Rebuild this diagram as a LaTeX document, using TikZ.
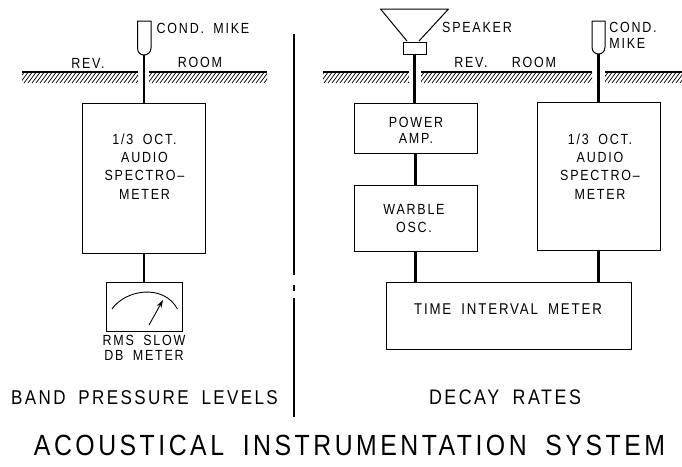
\documentclass[tikz,border=0pt]{standalone}
\usepackage{fontspec}
\setmainfont[LetterSpace=12,WordSpace=1.8,FakeStretch=0.85]{Liberation Sans}
\usetikzlibrary{arrows.meta}
\tikzset{
 box/.style={draw,line width=1pt,inner sep=0pt},
 lead/.style={line width=2.6pt},
 outline/.style={line width=1pt,line join=round},
 lbl/.style={font=\fontsize{14.7}{18.3}\selectfont,align=center,inner sep=0pt},
 lblt/.style={font=\fontsize{14.7}{15.5}\selectfont,align=center,inner sep=0pt},
 big/.style={font=\fontsize{20}{24}\selectfont,inner sep=0pt},
 huge/.style={font=\fontsize{29.2}{34}\selectfont,inner sep=0pt}
}
\newcommand{\hatchfloor}[2]{%
 \draw[line width=1.3pt] (#1,72)--(#2,72);
 \begin{scope}\clip (#1,72) rectangle (#2,82.5);
  \foreach \k in {0,4,...,700}{\draw[line width=.7pt] (\k,83)--(\k+9,71);}
 \end{scope}}
\begin{document}
\begin{tikzpicture}[x=1pt,y=-1pt]
\useasboundingbox (0,0) rectangle (682,466);
\fill[white] (0,0) rectangle (682,466);
\hatchfloor{22}{138}\hatchfloor{149}{267}\hatchfloor{323}{409}\hatchfloor{421}{592}\hatchfloor{605}{682}
% boxes
\node[box,minimum width=123pt,minimum height=150pt] (specL) at (143.5,178) {};
\node[box,minimum width=76pt,minimum height=49pt] (meter) at (144,306.5) {};
\node[box,minimum width=123pt,minimum height=50pt] (amp) at (415.5,128) {};
\node[box,minimum width=123pt,minimum height=66pt] (osc) at (415.5,218) {};
\node[box,minimum width=123pt,minimum height=148pt] (specR) at (598.5,176) {};
\node[box,minimum width=245pt,minimum height=67pt] (tim) at (508.5,315.5) {};
% microphones
\coordinate (mikeL) at (144,55);
\coordinate (mikeR) at (598.5,54);
\draw[outline] (137.5,21)--(151,21)--(151,48) .. controls (151,53) and (147,55) .. (mikeL) .. controls (141,55) and (137.5,53) .. (137.5,48)--cycle;
\draw[outline] (592,21)--(605,21)--(605,47) .. controls (605,52) and (601.5,54) .. (mikeR) .. controls (595.5,54) and (592,52) .. (592,47)--cycle;
% speaker
\node[box,minimum width=23pt,minimum height=12pt] (spk) at (414.5,48) {};
\draw[outline] (407,41)--(380.5,9)--(448.5,9)--(419,41);
% leads
\draw[lead] (mikeL)--(specL.north-|mikeL);
\draw[lead] (mikeR)--(specR.north-|mikeR);
\draw[lead] (spk.south)--(amp.north-|spk.south);
\draw[lead] (amp.south)--(osc.north);
\draw[lead] (specL.south-|meter.north)--(meter.north);
\draw[lead] (osc.south)--(tim.north-|osc.south);
\draw[lead] (specR.south)--(tim.north-|specR.south);
% meter face
\draw[line width=.9pt] (112,309) .. controls (125,290) and (163,283) .. (177.5,309);
\draw[line width=.9pt,-{Stealth[length=8pt,width=5pt]}] (149,325)--(163,300);
% divider
\draw[line width=1.3pt] (294,34)--(294,275);
\draw[line width=1.3pt] (294,285)--(294,291);
\draw[line width=1.3pt] (294,298)--(294,417);
% labels
\node[lbl] (t1) at (144.5,166.5) {1/3 OCT.\\AUDIO\\SPECTRO--\\METER};
\node[lbl] (t2) at (600,166.5) {1/3 OCT.\\AUDIO\\SPECTRO--\\METER};
\node[lblt] (t3) at (416,130.5) {POWER\\AMP.};
\node[lbl] (t4) at (414,218.5) {WARBLE\\OSC.};
\node[lbl,font=\fontsize{15.6}{18}\selectfont] (t5) at (508,309) {TIME INTERVAL METER};
\node[lbl] (l1) at (203,28) {COND. MIKE};
\node[lbl] (l2) at (88,63) {REV.};
\node[lbl] (l3) at (200,62) {ROOM};
\node[lblt] (l4) at (144,348) {RMS SLOW\\DB METER};
\node[lbl] (l5) at (477,27) {SPEAKER};
\node[lbl] (l6) at (471,62.5) {REV.};
\node[lbl] (l7) at (534,62) {ROOM};
\node[lblt,align=left] (l8) at (633,35.5) {COND.\\MIKE};
\node[big] (l9) at (144.5,398) {BAND PRESSURE LEVELS};
\node[big,font=\fontsize{21}{24}\selectfont] (l10) at (505,397) {DECAY RATES};
\node[huge] (l11) at (349.5,445) {ACOUSTICAL INSTRUMENTATION SYSTEM};
\end{tikzpicture}
\end{document}
